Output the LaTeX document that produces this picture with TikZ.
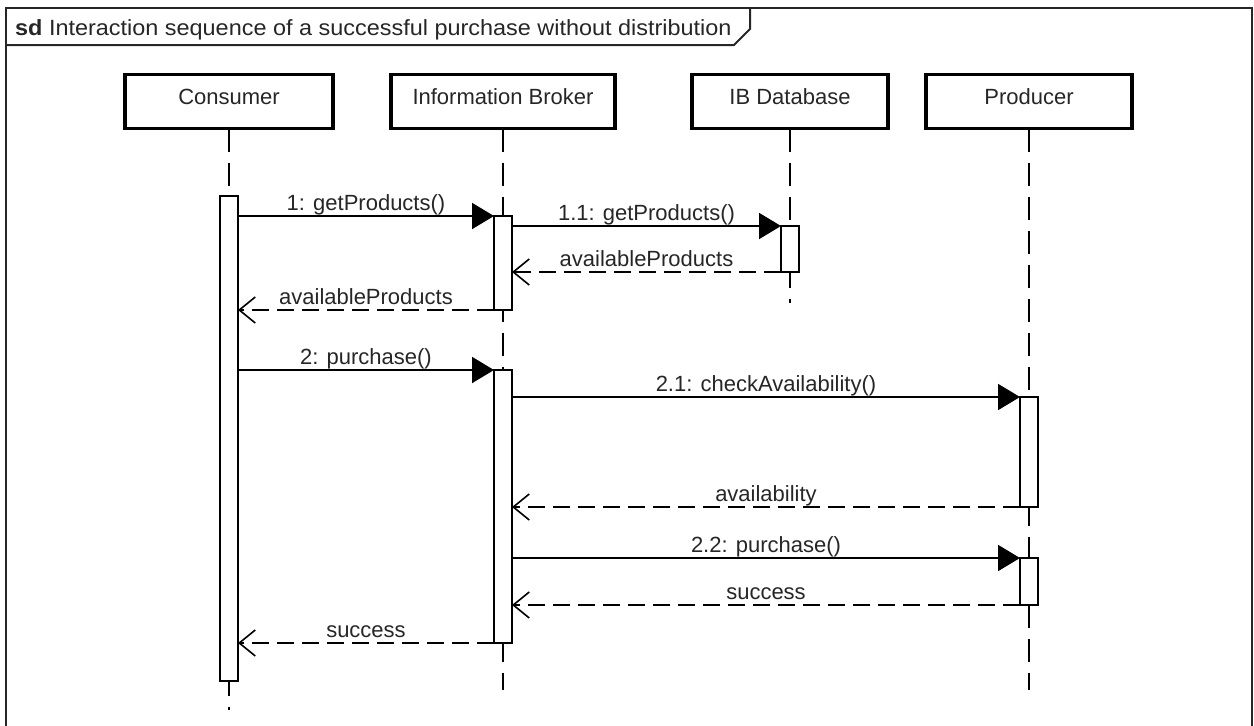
\documentclass[tikz,border=0pt]{standalone}
\usepackage{fontspec}
\setmainfont{Liberation Sans}
\usetikzlibrary{arrows.meta,calc}
\begin{document}
\begin{tikzpicture}[x=1pt,y=-1pt,
  every node/.style={font=\fontsize{22pt}{26pt}\selectfont, text=black!85},
  head/.style={draw, line width=3.5pt, minimum height=54pt, inner sep=0pt, outer sep=0pt, text height=16pt, text depth=11pt},
  bar/.style={draw, fill=white, line width=2pt, minimum width=18pt, inner sep=0pt, outer sep=0pt},
  life/.style={line width=2pt, dash pattern=on 23pt off 11pt},
  call/.style={line width=2pt, -{Triangle[length=22pt,width=26pt]}},
  ret/.style={line width=1.6pt, dash pattern=on 17pt off 8pt, -{Straight Barb[length=16pt,width=26pt]}},
  mlab/.style={anchor=base, inner sep=0pt, yshift=6pt},
]
\useasboundingbox (0,0) rectangle (1254,726);
% frame
\draw[line width=2pt, black!85] (6,740) -- (6,8) -- (1252,8) -- (1252,740);
\draw[line width=2pt, black!85] (6,45) -- (734,45) -- (750,29) -- (750,8);
\node[anchor=base west, inner sep=0pt] (title) at (15,35) {\scalebox{1.065}[1]{\textbf{sd} Interaction sequence of a successful purchase without distribution}};
% heads
\node[head, minimum width=208pt] (cons) at (229,101.5) {Consumer};
\node[head, minimum width=224pt] (ib) at (503,101.5) {Information Broker};
\node[head, minimum width=196pt] (db) at (790,101.5) {IB Database};
\node[head, minimum width=206pt] (prod) at (1029,101.5) {Producer};
% lifeline ends
\coordinate (cend) at (229,710);
\coordinate (ibend) at (503,690);
\coordinate (dbend) at (790,303);
\coordinate (pend) at (1029,690);
\draw[life] (cons.south) -- (cend);
\draw[life] (ib.south) -- (ibend);
\draw[life] (db.south) -- (dbend);
\draw[life] (prod.south) -- (pend);
% activation bars
\node[bar, minimum height=485pt] (cbar) at (229,438.5) {};
\node[bar, minimum height=94pt] (ibar1) at (503,263) {};
\node[bar, minimum height=46pt] (dbar) at (790,249) {};
\node[bar, minimum height=273pt] (ibar2) at (503,506.5) {};
\node[bar, minimum height=110pt] (pbar1) at (1029,452) {};
\node[bar, minimum height=47pt] (pbar2) at (1029,581.5) {};
% messages
\draw[call] (cbar.east |- ibar1.north west) -- (ibar1.north west) node[pos=0.5, mlab] {1: getProducts()};
\draw[call] (ibar1.east |- dbar.north west) -- (dbar.north west) node[pos=0.5, mlab] {1.1: getProducts()};
\draw[ret] (dbar.south west) -- (ibar1.east |- dbar.south west) node[pos=0.5, mlab] {availableProducts};
\draw[ret] (ibar1.south west) -- (cbar.east |- ibar1.south west) node[pos=0.5, mlab] {availableProducts};
\draw[call] (cbar.east |- ibar2.north west) -- (ibar2.north west) node[pos=0.5, mlab] {2: purchase()};
\draw[call] (ibar2.east |- pbar1.north west) -- (pbar1.north west) node[pos=0.5, mlab] {2.1: checkAvailability()};
\draw[ret] (pbar1.south west) -- (ibar2.east |- pbar1.south west) node[pos=0.5, mlab] {availability};
\draw[call] (ibar2.east |- pbar2.north west) -- (pbar2.north west) node[pos=0.5, mlab] {2.2: purchase()};
\draw[ret] (pbar2.south west) -- (ibar2.east |- pbar2.south west) node[pos=0.5, mlab] {success};
\draw[ret] (ibar2.south west) -- (cbar.east |- ibar2.south west) node[pos=0.5, mlab] {success};
\end{tikzpicture}
\end{document}
